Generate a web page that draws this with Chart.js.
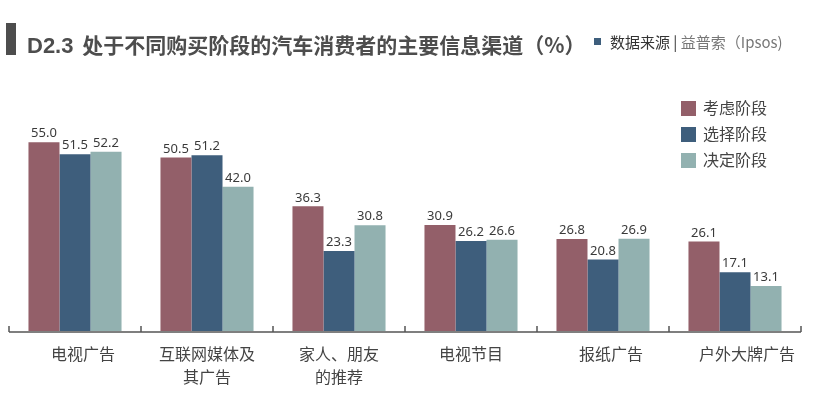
<!DOCTYPE html>
<html>
<head>
<meta charset="utf-8">
<script src="https://cdn.jsdelivr.net/npm/chart.js@4/dist/chart.umd.min.js"></script>
<style>
  body { margin: 0; background: #fff; font-family: "Noto Sans CJK SC", "Noto Sans", sans-serif; }
  #wrap { position: relative; width: 816px; height: 393px; }
  #bar { position: absolute; left: 6px; top: 23px; width: 10px; height: 32px; background: #4d4d4d; }
  #title { position: absolute; left: 27px; top: 30px; font-size: 21px; font-weight: bold; color: #4d4d4d; line-height: 28px; white-space: nowrap; }
  #title .code { font-family: "Liberation Sans Narrow", "Liberation Sans", sans-serif; font-size: 22px; margin-right: 4px; }
  #src { position: absolute; left: 594px; top: 31px; font-size: 15px; color: #333; line-height: 22px; white-space: nowrap; }
  #src i { display: inline-block; width: 7px; height: 7px; background: #3e5e7c; margin-right: 9px; vertical-align: 3px; }
  #src span { color: #777; }
  #legend { position: absolute; left: 681px; top: 96px; }
  .item { height: 26px; font-size: 16px; color: #444; line-height: 22px; white-space: nowrap; }
  .item i { display: inline-block; width: 15px; height: 15px; margin-right: 7px; vertical-align: -2px; }
  canvas { position: absolute; left: 0; top: 0; }
</style>
</head>
<body>
<div id="wrap">
  <canvas id="chartCanvas" width="816" height="393"></canvas>
  <div id="bar"></div>
  <div id="title"><span class="code">D2.3</span> 处于不同购买阶段的汽车消费者的主要信息渠道（%）</div>
  <div id="src"><i></i>数据来源 | <span>益普索（Ipsos)</span></div>
  <div id="legend"></div>
</div>
<script>
var channels = [['\u3000电视广告'], ['互联网媒体及', '其广告'], ['家人、朋友', '的推荐'], ['电视节目'], ['\u3000报纸广告'], ['\u3000\u2002户外大牌广告']];
var stageNames = ['考虑阶段', '选择阶段', '决定阶段'];
var considerStage = [55.0, 50.5, 36.3, 30.9, 26.8, 26.1];
var chooseStage = [51.5, 51.2, 23.3, 26.2, 20.8, 17.1];
var decideStage = [52.2, 42.0, 30.8, 26.6, 26.9, 13.1];
var stageColors = ['#935f69', '#3e5e7c', '#92b1b0'];

// legend on the right
var legendBox = document.getElementById('legend');
stageNames.forEach(function (name, i) {
    legendBox.innerHTML += '<div class="item"><i style="background:' + stageColors[i] + '"></i>' + name + '</div>';
});

// values above bars + axis with upward ticks
var valueLabels = {
    id: 'valueLabels',
    afterDatasetsDraw: function (chart) {
        var ctx = chart.ctx;
        ctx.save();
        ctx.font = '13px "Noto Sans", sans-serif';
        ctx.fillStyle = '#3a3a3a';
        ctx.textAlign = 'center';
        ctx.textBaseline = 'bottom';
        chart.data.datasets.forEach(function (ds, i) {
            chart.getDatasetMeta(i).data.forEach(function (bar, j) {
                ctx.fillText(ds.data[j].toFixed(1), bar.x, bar.y - 2);
            });
        });
        var x = chart.scales.x;
        var y0 = chart.chartArea.bottom + 1;
        ctx.strokeStyle = '#555';
        ctx.lineWidth = 1.5;
        ctx.beginPath();
        ctx.moveTo(x.left, y0);
        ctx.lineTo(x.right, y0);
        var step = x.width / channels.length;
        for (var k = 0; k <= channels.length; k++) {
            ctx.moveTo(x.left + k * step, y0);
            ctx.lineTo(x.left + k * step, y0 - 6);
        }
        ctx.stroke();
        ctx.restore();
    }
};

new Chart(document.getElementById('chartCanvas'), {
    type: 'bar',
    data: {
        labels: channels,
        datasets: [
            { label: stageNames[0], data: considerStage, backgroundColor: stageColors[0] },
            { label: stageNames[1], data: chooseStage, backgroundColor: stageColors[1] },
            { label: stageNames[2], data: decideStage, backgroundColor: stageColors[2] }
        ]
    },
    options: {
        responsive: false,
        animation: false,
        events: [],
        layout: { padding: { left: 9, right: 15, top: 125, bottom: 0 } },
        plugins: { legend: { display: false }, tooltip: { enabled: false } },
        datasets: { bar: { categoryPercentage: 0.705, barPercentage: 1 } },
        scales: {
            x: {
                grid: { display: false, drawTicks: false },
                border: { display: false },
                ticks: {
                    color: '#444',
                    padding: 12,
                    font: { family: '"Noto Sans CJK SC", sans-serif', size: 16, lineHeight: 1.4 }
                },
                afterFit: function (scale) { scale.height = 62; }
            },
            y: { display: false, min: 0, max: 60 }
        }
    },
    plugins: [valueLabels]
});
</script>
</body>
</html>
